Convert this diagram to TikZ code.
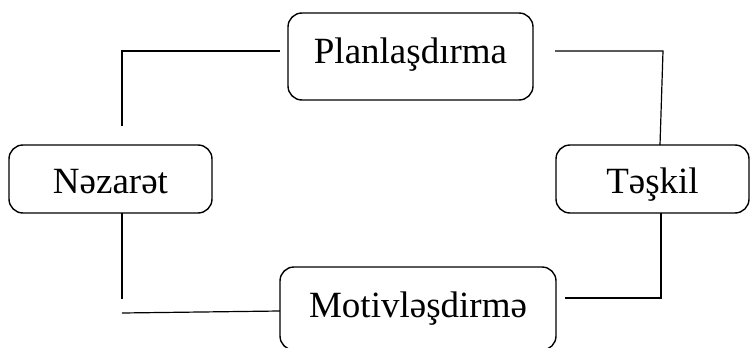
\documentclass[tikz,border=0pt]{standalone}
\usepackage{fontspec}
\setmainfont{Liberation Serif}
\begin{document}
\begin{tikzpicture}[x=1pt,y=-1pt,
  box/.style={draw,line width=1.4pt,rounded corners=14pt,inner xsep=0pt,inner ysep=0pt,
    font=\fontsize{37}{40}\selectfont,align=center},
  link/.style={line width=1.2pt}]
\useasboundingbox (0,0) rectangle (750,348);
% boxes (text height/depth set so baselines match)
\node[box,minimum width=245pt,text height=50pt,text depth=37pt] (plan) at (410.5,56.5) {Planlaşdırma};
\node[box,minimum width=193pt,text height=48pt,text depth=20pt] (teskil) at (652.5,179) {Təşkil};
\node[box,minimum width=203pt,text height=48pt,text depth=20pt] (nezaret) at (110.5,179) {Nəzarət};
\node[box,minimum width=276pt,text height=50pt,text depth=33pt] (motiv) at (418,308.5) {Motivləşdirmə};
% connector end points
\coordinate (p1) at (280,51);
\coordinate (p2) at (122,51);
\coordinate (p3) at (122,126);
\coordinate (q1) at (555,51);
\coordinate (q2) at (663,51);
\coordinate (q3) at (660,145);
\coordinate (r1) at (661,213);
\coordinate (r2) at (661,298);
\coordinate (r3) at (565,298);
\coordinate (s1) at (122,213);
\coordinate (s2) at (122,299);
\coordinate (t1) at (122,313);
\coordinate (t2) at (280,311);
% connectors
\draw[link] (p1) -- (p2) -- (p3);
\draw[link] (q1) -- (q2) -- (q3);
\draw[link] (r1) -- (r2) -- (r3);
\draw[link] (s1) -- (s2);
\draw[link] (t1) -- (t2);
\end{tikzpicture}
\end{document}
